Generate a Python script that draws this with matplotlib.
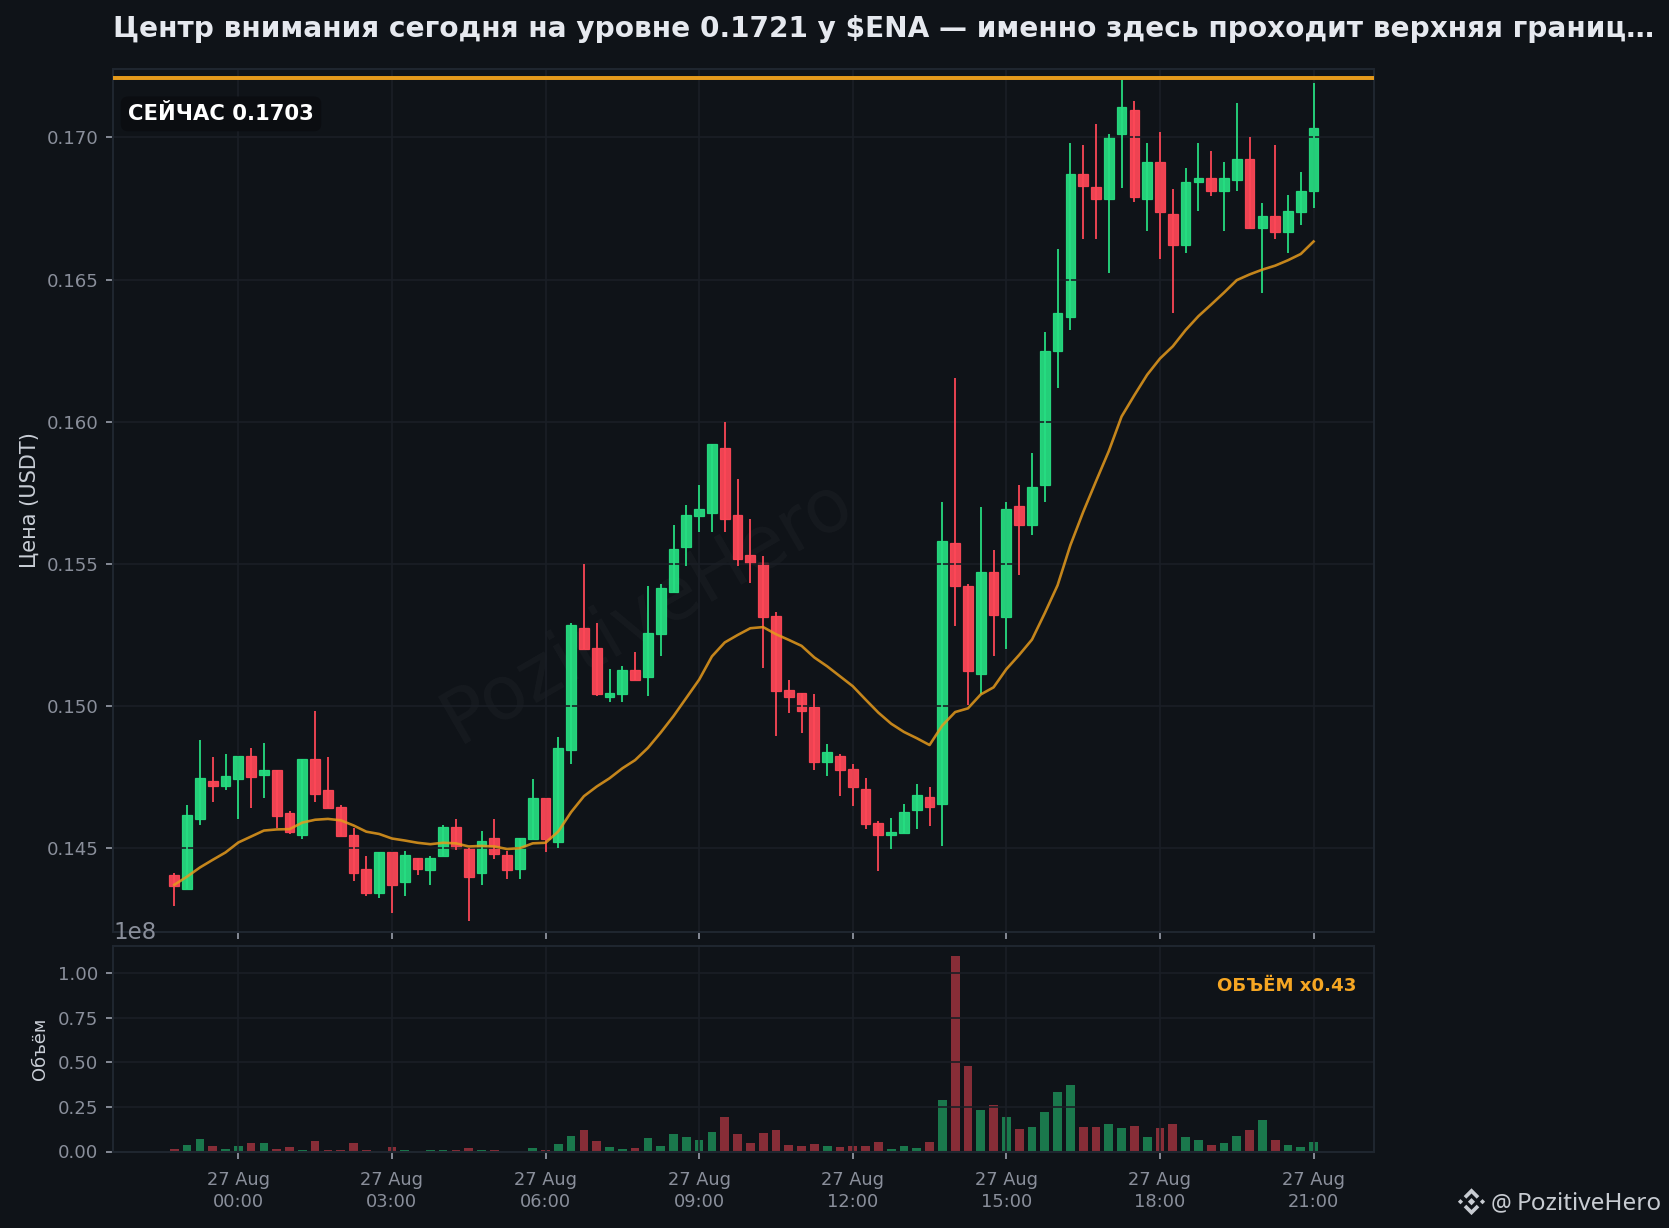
import numpy as np
import pandas as pd
import matplotlib
matplotlib.use("Agg")
import matplotlib.pyplot as plt
import matplotlib.dates as mdates
from matplotlib.patches import Polygon
from matplotlib.ticker import MultipleLocator, FormatStrFormatter

W, H = 1669, 1228
DPI = 150

opens = [
    .14404, .14357, .14600, .14735, .14719, .14742, .14823, .14758, .14773, .14622,
    .14547, .14812, .14703, .14643, .14545, .14425, .14341, .14485, .14379, .14464,
    .14421, .14471, .14573, .14499, .14411, .14534, .14474, .14427, .14531, .14675,
    .14520, .14843, .15273, .15203, .15031, .15041, .15126, .15101, .15252, .15399,
    .15559, .15668, .15678, .15909, .15671, .15531, .15502, .15315, .15056, .15045,
    .14997, .14804, .14825, .14776, .14706, .14587, .14547, .14552, .14633, .14678,
    .14654, .15573, .15423, .15112, .15472, .15311, .15702, .15636, .15776, .16250,
    .16370, .16873, .16824, .16782, .17011, .17095, .16782, .16915, .16732, .16620,
    .16842, .16856, .16810, .16852, .16926, .16680, .16725, .16669, .16739, .16810,
]
highs = [
    .14411, .14650, .14879, .14819, .14830, .14823, .14851, .14868, .14773, .14629,
    .14812, .14981, .14819, .14650, .14569, .14471, .14485, .14485, .14488, .14464,
    .14471, .14580, .14601, .14499, .14559, .14601, .14488, .14534, .14742, .14675,
    .14889, .15290, .15500, .15290, .15129, .15140, .15189, .15420, .15430, .15636,
    .15706, .15776, .15920, .15997, .15797, .15657, .15528, .15329, .15091, .15045,
    .15042, .14864, .14832, .14794, .14745, .14594, .14605, .14654, .14724, .14713,
    .15717, .16154, .15430, .15699, .15549, .15718, .15777, .15888, .16317, .16609,
    .16982, .16972, .17049, .17011, .17205, .17130, .16982, .17021, .16820, .16891,
    .16982, .16951, .16912, .17120, .17000, .16771, .16972, .16799, .16880, .17191,
]
lows = [
    .14294, .14355, .14581, .14663, .14702, .14603, .14642, .14674, .14569, .14550,
    .14533, .14663, .14640, .14541, .14382, .14332, .14322, .14272, .14332, .14403,
    .14371, .14471, .14491, .14241, .14371, .14462, .14392, .14392, .14531, .14484,
    .14501, .14796, .15199, .15034, .15013, .15013, .15090, .15034, .15174, .15399,
    .15492, .15611, .15611, .15611, .15492, .15432, .15132, .14894, .14974, .14904,
    .14775, .14754, .14684, .14646, .14565, .14418, .14495, .14552, .14565, .14576,
    .14506, .15282, .15003, .15040, .15174, .15201, .15461, .15601, .15718, .16118,
    .16323, .16643, .16643, .16524, .16823, .16773, .16671, .16573, .16383, .16594,
    .16742, .16795, .16671, .16812, .16680, .16453, .16643, .16594, .16693, .16752,
]
closes = [
    .14367, .14615, .14745, .14719, .14752, .14823, .14749, .14773, .14611, .14557,
    .14812, .14689, .14640, .14541, .14411, .14341, .14485, .14369, .14474, .14427,
    .14464, .14573, .14501, .14399, .14523, .14480, .14421, .14534, .14675, .14531,
    .14853, .15283, .15199, .15041, .15045, .15126, .15090, .15255, .15413, .15552,
    .15671, .15692, .15920, .15657, .15517, .15502, .15311, .15052, .15031, .14983,
    .14804, .14836, .14773, .14713, .14584, .14545, .14556, .14626, .14685, .14643,
    .15580, .15420, .15122, .15472, .15318, .15693, .15636, .15769, .16250, .16384,
    .16873, .16831, .16782, .17000, .17106, .16792, .16915, .16739, .16620, .16845,
    .16856, .16810, .16856, .16926, .16680, .16725, .16669, .16743, .16813, .17034,
]
ema = [
    .14370, .14399, .14431, .14458, .14484, .14519, .14540, .14561, .14565, .14566,
    .14589, .14599, .14602, .14597, .14579, .14557, .14549, .14533, .14526, .14518,
    .14513, .14518, .14516, .14505, .14507, .14505, .14496, .14499, .14516, .14518,
    .14558, .14626, .14682, .14716, .14745, .14780, .14809, .14852, .14906, .14964,
    .15028, .15092, .15174, .15223, .15249, .15273, .15277, .15252, .15232, .15211,
    .15170, .15139, .15104, .15069, .15022, .14976, .14937, .14908, .14886, .14862,
    .14931, .14978, .14991, .15040, .15065, .15129, .15179, .15233, .15326, .15424,
    .15565, .15682, .15790, .15896, .16018, .16093, .16165, .16222, .16265, .16322,
    .16371, .16412, .16454, .16498, .16518, .16535, .16549, .16568, .16590, .16634,
]
# volume in units of 1e8
volumes = [
    .013, .036, .069, .030, .013, .030, .047, .047, .013, .024,
    .007, .058, .007, .007, .047, .007, .001, .024, .007, .002,
    .007, .007, .007, .019, .007, .007, .002, .002, .019, .007,
    .041, .086, .120, .058, .024, .013, .019, .075, .030, .097,
    .080, .064, .109, .193, .097, .047, .103, .120, .036, .030,
    .041, .030, .024, .030, .030, .052, .013, .030, .019, .052,
    .288, 1.097, .479, .232, .260, .193, .125, .137, .221, .333,
    .372, .137, .137, .153, .131, .142, .080, .131, .153, .080,
    .064, .036, .047, .086, .120, .176, .064, .036, .024, .052,
]
price_ticks = [0.145, 0.150, 0.155, 0.160, 0.165, 0.170]
level = 0.1721
now_price = 0.1703
vol_ratio = 0.43
title = "Центр внимания сегодня на уровне 0.1721 у $ENA — именно здесь проходит верхняя границ…"

BG = "#0f1318"
GRID = "#1a1f26"
SPINE = "#1f262f"
TICK = "#8a8f9b"
UP = "#26de81"
DOWN = "#ff4757"
ORANGE = "#e59a1c"

times = pd.date_range("2025-08-26 22:45", periods=len(opens), freq="15min")
x = mdates.date2num(times)
step = x[1] - x[0]

opens = np.array(opens)
closes = np.array(closes)
is_up = closes >= opens
colors = [UP if u else DOWN for u in is_up]

fig = plt.figure(figsize=(W / DPI, H / DPI), dpi=DPI, facecolor=BG)
left, right = 113 / W, 1374 / W
ax = fig.add_axes([left, 1 - 932 / H, right - left, (932 - 69) / H], facecolor=BG)
ax_vol = fig.add_axes([left, 1 - 1151.5 / H, right - left, (1151.5 - 945.5) / H], facecolor=BG, sharex=ax)

# candles
ax.vlines(x, lows, highs, colors=colors, linewidth=0.85)
ax.bar(x, np.abs(closes - opens), bottom=np.minimum(opens, closes), width=step * 0.76,
       color=colors, edgecolor=colors, linewidth=0.6, alpha=0.93)
ax.plot(x, ema, color=ORANGE, linewidth=1.25, alpha=0.85)
ax.axhline(level, color=ORANGE, linewidth=1.9, zorder=3)

ax.set_ylim(0.14204, 0.17241)
ax.set_xlim(x[5] - step * 9.79, x[5] + step * 88.72)
ax.set_yticks(price_ticks)
ax.yaxis.set_major_formatter(FormatStrFormatter("%.3f"))
ax.set_ylabel("Цена (USDT)", color="#c9ced6", fontsize=10)
ax.yaxis.set_label_coords(-0.058, 0.5)

ax.text(0.012, 0.948, f"СЕЙЧАС {now_price:.4f}", transform=ax.transAxes, color="white",
        fontsize=10.15, fontweight="bold", va="center", ha="left",
        bbox=dict(boxstyle="round,pad=0.35", facecolor="#0b0d11", edgecolor="none"))
ax.text(0.424, 0.372, "PozitiveHero", transform=ax.transAxes, color="white", alpha=0.03,
        fontsize=35.5, rotation=30, ha="center", va="center", zorder=0)

# volume
ax_vol.bar(x, np.array(volumes) * 1e8, width=step * 0.68, color=colors, alpha=0.5)
ax_vol.set_ylim(0, 1.154e8)
ax_vol.yaxis.set_major_locator(MultipleLocator(0.25e8))
ax_vol.set_ylabel("Объём", color="#c9ced6", fontsize=8.6)
ax_vol.yaxis.set_label_coords(-0.051, 0.5)
ax_vol.text(0.986, 0.805, f"ОБЪЁМ x{vol_ratio:.2f}", transform=ax_vol.transAxes, color="#f5a623",
            fontsize=8.7, fontweight="bold", ha="right", va="center")

ax_vol.xaxis.set_major_locator(mdates.HourLocator(byhour=range(0, 24, 3)))
ax_vol.xaxis.set_major_formatter(mdates.DateFormatter("%d %b\n%H:%M"))

for a in (ax, ax_vol):
    a.grid(True, color=GRID, linewidth=0.8)
    a.tick_params(colors=TICK, labelsize=8.7, length=3.5, width=0.9)
    a.yaxis.get_offset_text().set_color(TICK)
    a.yaxis.get_offset_text().set_fontsize(11)
    for s in a.spines.values():
        s.set_color(SPINE)
        s.set_linewidth(1.0)
ax.tick_params(labelbottom=False)
ax_vol.tick_params(axis="x", labelsize=8.5, pad=6)
for lab in ax_vol.get_xticklabels():
    lab.set_linespacing(1.25)

fig.text(left, 1 - 29 / H, title, color="#e6e9ef", fontsize=13.44, fontweight="bold", ha="left", va="center")


# logo, drawn in pixels from the top left of the picture
def logo_piece(pts):
    cx, cy = 1471.5, 1201.7
    xy = [((cx + px) / W, 1 - (cy + py) / H) for px, py in pts]
    fig.add_artist(Polygon(xy, closed=True, transform=fig.transFigure, facecolor="#c8ccd2", edgecolor="none"))


logo_piece([(0, -3.6), (3.6, 0), (0, 3.6), (-3.6, 0)])
logo_piece([(-13.6, 0), (-11, -2.6), (-8.4, 0), (-11, 2.6)])
logo_piece([(13.6, 0), (11, -2.6), (8.4, 0), (11, 2.6)])
logo_piece([(0, -13.4), (7.8, -5.6), (5.2, -3), (0, -8.2), (-5.2, -3), (-7.8, -5.6)])
logo_piece([(0, 13.4), (7.8, 5.6), (5.2, 3), (0, 8.2), (-5.2, 3), (-7.8, 5.6)])

fig.text(1491 / W, 1 - 1204 / H, "@", color="#c8ccd2", fontsize=11, family="Noto Sans", va="center", ha="left")
fig.text(1517 / W, 1 - 1204 / H, "PozitiveHero", color="#c8ccd2", fontsize=11.7, family="Noto Sans", va="center", ha="left")

fig.savefig("out.png", dpi=DPI, facecolor=BG)
